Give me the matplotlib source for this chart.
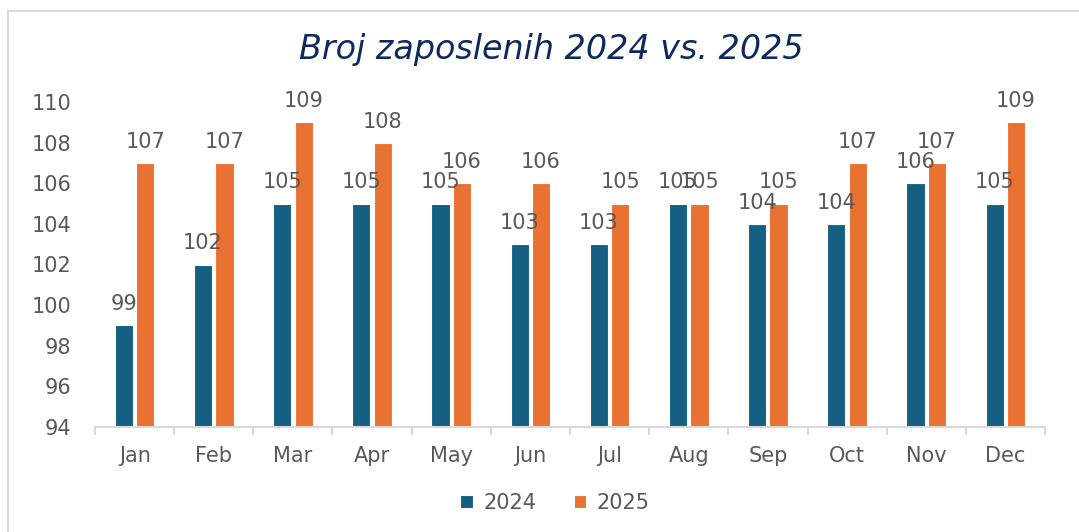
import matplotlib

matplotlib.use("Agg")
import matplotlib.pyplot as plt
from matplotlib.patches import Rectangle
import numpy as np

months = ["Jan", "Feb", "Mar", "Apr", "May", "Jun",
          "Jul", "Aug", "Sep", "Oct", "Nov", "Dec"]
emp_2024 = [99, 102, 105, 105, 105, 103, 103, 105, 104, 104, 106, 105]
emp_2025 = [107, 107, 109, 108, 106, 106, 105, 105, 105, 107, 107, 109]
yticks = [94, 96, 98, 100, 102, 104, 106, 108, 110]

plt.rcParams["font.family"] = ["DejaVu Sans"]
c24 = "#156082"
c25 = "#E97132"
grey = "#595959"

fig = plt.figure(figsize=(10.79, 5.32), dpi=100)
# outer chart frame
fig.patches.append(Rectangle((8 / 1079, -0.1), 1.2, 1 - 11 / 532 + 0.1,
                             transform=fig.transFigure, fill=False,
                             edgecolor="#D9D9D9", linewidth=1.5))

ax = fig.add_axes([95 / 1079, 1 - 427 / 532, 950 / 1079, 325 / 532])

x = np.arange(len(months))
w = 0.23
b1 = ax.bar(x - w / 2 - 0.02, np.array(emp_2024) - 94, w, bottom=94, color=c24,
            edgecolor="white", linewidth=0.8, label="2024")
b2 = ax.bar(x + w / 2 + 0.02, np.array(emp_2025) - 94, w, bottom=94, color=c25,
            edgecolor="white", linewidth=0.8, label="2025")

for bars, vals in ((b1, emp_2024), (b2, emp_2025)):
    for r, v in zip(bars, vals):
        ax.annotate(str(v), (r.get_x() + r.get_width() / 2, v),
                    xytext=(0, 8), textcoords="offset points",
                    ha="center", va="bottom", fontsize=15, color=grey)

ax.set_ylim(94, 110)
ax.set_xlim(-0.5, len(months) - 0.5)
ax.set_yticks(yticks)
ax.set_xticks(x)
ax.set_xticklabels(months)
ax.set_xticks(np.arange(len(months) + 1) - 0.5, minor=True)
ax.tick_params(axis="x", which="major", length=0, pad=14, labelsize=15,
               labelcolor=grey)
ax.tick_params(axis="x", which="minor", length=6, color="#D9D9D9", width=1.5)
ax.tick_params(axis="y", length=0, pad=17, labelsize=15, labelcolor=grey)
for s in ("top", "right", "left"):
    ax.spines[s].set_visible(False)
ax.spines["bottom"].set_color("#D9D9D9")
ax.spines["bottom"].set_linewidth(1.5)

fig.text(551 / 1079, 1 - 49 / 532, "Broj zaposlenih 2024 vs. 2025",
         ha="center", va="center", fontsize=24, style="italic", color="#0E2A5C")

fig.legend(handles=[b1, b2], labels=["2024", "2025"], loc="center",
           bbox_to_anchor=(555 / 1079, 1 - 503 / 532), ncol=2, frameon=False,
           fontsize=15, labelcolor=grey, handlelength=0.6, handleheight=0.6,
           handletextpad=0.5, columnspacing=1.8)

fig.savefig("out.png", dpi=100)
